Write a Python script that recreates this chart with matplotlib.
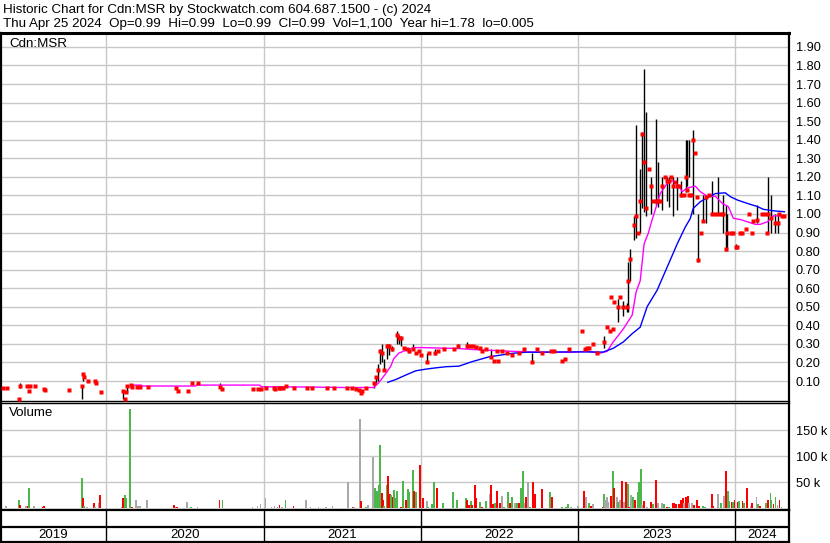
import numpy as np
import matplotlib
matplotlib.use('Agg')
import matplotlib.pyplot as plt

plt.rcParams['font.family'] = ['Liberation Sans', 'DejaVu Sans']

title_line = 'Historic Chart for Cdn:MSR by Stockwatch.com 604.687.1500 - (c) 2024'
quote_line = ('Thu Apr 25 2024  Op=0.99  Hi=0.99  Lo=0.99  Cl=0.99  '
              'Vol=1,100  Year hi=1.78  lo=0.005')
symbol = 'Cdn:MSR'
years = [2019, 2020, 2021, 2022, 2023, 2024]

# trade days: date as decimal year, high, low, close
t = [2019.344, 2019.370, 2019.446, 2019.452, 2019.497, 2019.510, 2019.516, 2019.548,
     2019.605, 2019.611, 2019.764, 2019.847, 2019.853, 2019.860, 2019.885, 2019.930,
     2019.936, 2019.968,
     2020.108, 2020.121, 2020.127, 2020.134, 2020.159, 2020.166, 2020.197, 2020.217,
     2020.268, 2020.446, 2020.459, 2020.522, 2020.548, 2020.586, 2020.726, 2020.739,
     2020.936, 2020.968, 2020.987,
     2021.013, 2021.064, 2021.076, 2021.096, 2021.108, 2021.121, 2021.146, 2021.197,
     2021.274, 2021.306, 2021.401, 2021.446, 2021.529, 2021.561, 2021.586, 2021.605,
     2021.618, 2021.624, 2021.650, 2021.701, 2021.713, 2021.726, 2021.739, 2021.752,
     2021.764, 2021.783, 2021.796, 2021.815, 2021.847, 2021.860, 2021.873, 2021.892,
     2021.911, 2021.924, 2021.949, 2021.968, 2021.987,
     2022.002, 2022.038, 2022.051, 2022.089, 2022.108, 2022.146, 2022.210, 2022.236,
     2022.293, 2022.312, 2022.331, 2022.350, 2022.376, 2022.389, 2022.414, 2022.446,
     2022.465, 2022.484, 2022.490, 2022.516, 2022.548, 2022.580, 2022.624, 2022.656,
     2022.707, 2022.739, 2022.771, 2022.828, 2022.847, 2022.898, 2022.917, 2022.943,
     2023.025, 2023.045, 2023.057, 2023.070, 2023.096, 2023.121, 2023.166, 2023.185,
     2023.204, 2023.210, 2023.223, 2023.229, 2023.255, 2023.268, 2023.287, 2023.312,
     2023.318, 2023.331, 2023.357, 2023.369, 2023.382, 2023.395, 2023.408, 2023.420,
     2023.433, 2023.452, 2023.465, 2023.478, 2023.497, 2023.510, 2023.522, 2023.535,
     2023.554, 2023.567, 2023.580, 2023.592, 2023.605, 2023.618, 2023.631, 2023.643,
     2023.656, 2023.675, 2023.688, 2023.694, 2023.707, 2023.720, 2023.732, 2023.745,
     2023.758, 2023.764, 2023.783, 2023.796, 2023.815, 2023.834, 2023.854, 2023.873,
     2023.892, 2023.911, 2023.924, 2023.943, 2023.949, 2023.975, 2023.987,
     2024.002, 2024.013, 2024.032, 2024.045, 2024.070, 2024.089, 2024.108, 2024.115,
     2024.140, 2024.172, 2024.191, 2024.204, 2024.210, 2024.229, 2024.255, 2024.268,
     2024.280, 2024.299, 2024.312]
hi = [.06, .06, .005, .09, .075, .046, .075, .075,
      .057, .05, .05, .073, .145, .12, .10, .10,
      .09, .04,
      .046, .005, .04, .073, .08, .067, .067, .067,
      .067, .06, .046, .046, .09, .09, .088, .057,
      .057, .057, .057,
      .06, .06, .058, .075, .06, .06, .075, .062,
      .062, .062, .062, .062, .062, .062, .058, .05,
      .035, .045, .065, .09, .12, .19, .27, .30,
      .22, .30, .30, .29, .37, .35, .34, .28,
      .27, .28, .30, .25, .26,
      .24, .25, .25, .27, .26, .27, .27, .30,
      .31, .29, .29, .285, .28, .26, .27, .27,
      .21, .26, .21, .26, .25, .24, .25, .28,
      .25, .27, .25, .26, .26, .21, .22, .27,
      .37, .27, .28, .28, .30, .25, .34, .39,
      .37, .55, .38, .525, .54, .55, .53, .52,
      .74, .81, .99, 1.48, .90, 1.24, 1.44, 1.78,
      1.55, 1.24, 1.20, 1.07, 1.51, 1.28, 1.07, 1.20,
      1.20, 1.20, 1.20, 1.20, 1.20, 1.17, 1.20, 1.15,
      1.18, 1.10, 1.40, 1.40, 1.40, 1.10, 1.45, 1.33,
      1.09, 1.00, .90, 1.10, 1.10, 1.10, 1.18, 1.00,
      1.20, 1.00, 1.10, 1.05, 1.00, .90, .90,
      .84, .82, .90, .90, .92, 1.00, .90, .96,
      1.05, 1.00, 1.00, .90, 1.20, 1.10, 1.00, 1.00,
      1.00, .99, .99]
lo = [.06, .06, .005, .06, .075, .046, .075, .075,
      .057, .05, .05, .005, .10, .12, .10, .10,
      .09, .04,
      .005, .005, .04, .042, .08, .067, .067, .067,
      .067, .06, .046, .046, .09, .09, .067, .057,
      .057, .057, .057,
      .06, .06, .058, .06, .06, .06, .075, .062,
      .062, .062, .062, .062, .062, .062, .058, .05,
      .035, .045, .065, .065, .09, .10, .19, .20,
      .16, .22, .24, .26, .30, .30, .29, .28,
      .27, .25, .27, .25, .26,
      .24, .20, .25, .24, .26, .27, .27, .28,
      .28, .29, .29, .285, .28, .26, .27, .23,
      .21, .26, .21, .26, .25, .24, .25, .26,
      .20, .27, .25, .26, .26, .21, .22, .27,
      .37, .27, .28, .28, .30, .25, .28, .39,
      .37, .55, .38, .525, .42, .55, .45, .47,
      .47, .64, .86, .87, .90, .90, 1.03, 1.01,
      .99, 1.24, 1.00, 1.07, 1.05, 1.04, 1.07, 1.02,
      1.20, 1.07, 1.04, 1.20, .99, 1.17, 1.02, 1.15,
      1.09, 1.10, 1.12, 1.15, 1.20, 1.10, 1.00, 1.33,
      1.09, .74, .90, .96, .95, 1.10, 1.00, 1.00,
      1.00, 1.00, .90, .80, .81, .90, .90,
      .81, .82, .90, .90, .92, 1.00, .90, .96,
      .95, 1.00, 1.00, .90, .90, .90, .90, .90,
      1.00, .99, .99]
cl = [.06, .06, .005, .075, .075, .046, .075, .075,
      .057, .05, .05, .073, .14, .12, .10, .10,
      .09, .04,
      .046, .005, .04, .073, .08, .067, .067, .067,
      .067, .06, .046, .046, .09, .09, .07, .057,
      .057, .057, .057,
      .06, .06, .058, .06, .06, .06, .075, .062,
      .062, .062, .062, .062, .062, .062, .058, .05,
      .035, .045, .065, .09, .12, .16, .26, .25,
      .16, .29, .29, .27, .35, .33, .33, .28,
      .27, .26, .27, .25, .26,
      .24, .20, .25, .25, .26, .27, .27, .29,
      .29, .29, .29, .285, .28, .26, .27, .23,
      .21, .26, .21, .26, .25, .24, .25, .27,
      .20, .27, .25, .26, .26, .21, .22, .27,
      .37, .27, .28, .28, .30, .25, .31, .39,
      .37, .55, .38, .525, .50, .55, .50, .50,
      .64, .76, .94, .99, .90, 1.07, 1.43, 1.28,
      1.03, 1.24, 1.15, 1.07, 1.07, 1.07, 1.07, 1.15,
      1.20, 1.18, 1.18, 1.20, 1.15, 1.17, 1.15, 1.15,
      1.10, 1.10, 1.20, 1.13, 1.10, 1.10, 1.40, 1.33,
      1.09, .75, .90, .96, 1.09, 1.10, 1.00, 1.00,
      1.00, 1.00, 1.00, .81, .90, .90, .90,
      .82, .82, .90, .90, .92, 1.00, .90, .96,
      .97, 1.00, 1.00, .90, 1.00, .98, .95, .95,
      1.00, .99, .99]

# short moving average (magenta)
ma_s_t = [2020.166, 2020.223, 2020.229, 2020.567, 2020.573, 2020.975, 2020.987, 2021.223,
          2021.510, 2021.701, 2021.732, 2021.777, 2021.809, 2021.828, 2021.860, 2021.904,
          2021.955, 2022.006, 2022.242, 2022.325, 2022.580, 2022.752, 2022.968, 2023.057,
          2023.140, 2023.185, 2023.223, 2023.287, 2023.344, 2023.369, 2023.395, 2023.420,
          2023.446, 2023.471, 2023.490, 2023.522, 2023.567, 2023.599, 2023.637, 2023.662,
          2023.694, 2023.745, 2023.777, 2023.822, 2023.873, 2023.917, 2023.955, 2023.987,
          2024.032, 2024.076, 2024.127, 2024.159, 2024.204, 2024.242, 2024.312]
ma_s = [.078, .078, .073, .073, .078, .078, .069, .068,
        .065, .065, .09, .14, .18, .22, .25, .265,
        .28, .28, .275, .27, .26, .255, .255, .26,
        .25, .26, .31, .38, .455, .58, .64, .84,
        .895, .97, 1.02, 1.11, 1.165, 1.18, 1.155, 1.12,
        1.14, 1.15, 1.12, 1.095, 1.095, 1.057, 1.04, .977,
        .97, .958, .944, .944, .958, .99, .99]

# long moving average (blue)
ma_l_t = [2021.790, 2021.841, 2021.904, 2021.968, 2022.032, 2022.096, 2022.159, 2022.242,
          2022.325, 2022.433, 2022.580, 2022.669, 2022.968, 2023.159, 2023.223, 2023.287,
          2023.344, 2023.395, 2023.439, 2023.503, 2023.567, 2023.631, 2023.682, 2023.713,
          2023.732, 2023.777, 2023.822, 2023.873, 2023.936, 2023.968, 2024.013, 2024.076,
          2024.140, 2024.178, 2024.242, 2024.312]
ma_l = [.093, .108, .132, .155, .164, .171, .177, .18,
        .204, .23, .249, .255, .257, .256, .276, .31,
        .355, .39, .50, .59, .715, .84, .93, .975,
        1.03, 1.066, 1.087, 1.11, 1.114, 1.093, 1.075, 1.057,
        1.04, 1.025, 1.017, 1.012]

# daily volume (shares) and direction: u = up, d = down, n = unchanged
vol_t = [2019.331, 2019.363, 2019.446, 2019.452, 2019.490, 2019.503, 2019.510, 2019.541,
         2019.599, 2019.605, 2019.752, 2019.847, 2019.853, 2019.860, 2019.879, 2019.923,
         2019.930, 2019.955, 2019.962,
         2020.102, 2020.108, 2020.121, 2020.127, 2020.153, 2020.166, 2020.191, 2020.204,
         2020.217, 2020.261, 2020.433, 2020.446, 2020.452, 2020.516, 2020.541, 2020.580,
         2020.720, 2020.739, 2020.930, 2020.962, 2020.981,
         2021.013, 2021.051, 2021.070, 2021.089, 2021.102, 2021.115, 2021.140, 2021.191,
         2021.268, 2021.299, 2021.350, 2021.395, 2021.439, 2021.535, 2021.567, 2021.573,
         2021.611, 2021.618, 2021.650, 2021.662, 2021.694, 2021.707, 2021.720, 2021.732,
         2021.739, 2021.752, 2021.758, 2021.764, 2021.783, 2021.790, 2021.803, 2021.809,
         2021.822, 2021.828, 2021.834, 2021.847, 2021.873, 2021.885, 2021.904, 2021.917,
         2021.924, 2021.949, 2021.955, 2021.968, 2021.994,
         2022.013, 2022.038, 2022.045, 2022.070, 2022.083, 2022.102, 2022.140, 2022.204,
         2022.229, 2022.287, 2022.293, 2022.306, 2022.318, 2022.325, 2022.344, 2022.350,
         2022.376, 2022.389, 2022.414, 2022.439, 2022.446, 2022.459, 2022.471, 2022.484,
         2022.503, 2022.516, 2022.529, 2022.554, 2022.567, 2022.580, 2022.599, 2022.611,
         2022.624, 2022.637, 2022.650, 2022.662, 2022.669, 2022.682, 2022.694, 2022.713,
         2022.726, 2022.771, 2022.822, 2022.834, 2022.892, 2022.898, 2022.924, 2022.936,
         2022.955,
         2023.000, 2023.038, 2023.051, 2023.070, 2023.083, 2023.096, 2023.159, 2023.166,
         2023.172, 2023.185, 2023.191, 2023.210, 2023.223, 2023.229, 2023.248, 2023.255,
         2023.268, 2023.280, 2023.293, 2023.306, 2023.318, 2023.325, 2023.338, 2023.350,
         2023.363, 2023.382, 2023.389, 2023.401, 2023.408, 2023.420, 2023.439, 2023.465,
         2023.478, 2023.497, 2023.510, 2023.535, 2023.548, 2023.567, 2023.580, 2023.605,
         2023.611, 2023.624, 2023.643, 2023.656, 2023.669, 2023.675, 2023.688, 2023.701,
         2023.707, 2023.726, 2023.739, 2023.758, 2023.771, 2023.796, 2023.809, 2023.854,
         2023.860, 2023.892, 2023.911, 2023.930, 2023.943, 2023.955, 2023.962, 2023.975,
         2023.987, 2023.994,
         2024.019, 2024.025, 2024.045, 2024.057, 2024.076, 2024.096, 2024.108, 2024.134,
         2024.146, 2024.159, 2024.197, 2024.210, 2024.223, 2024.229, 2024.242, 2024.255,
         2024.268, 2024.280, 2024.293, 2024.318]
vol = [1000, 4500, 16000, 6000, 4000, 4000, 40000, 4000,
       2000, 4000, 1000, 58000, 20000, 4000, 2000, 11000,
       2000, 10000, 26000,
       2000, 19000, 26000, 19000, 191000, 3000, 16000, 4000,
       4000, 16000, 6000, 3000, 2000, 13000, 2000, 2000,
       16000, 16000, 2000, 4000, 8000,
       20000, 3000, 4000, 2000, 6000, 3000, 16000, 4000,
       16000, 2000, 2000, 3000, 4000, 51000, 2000, 3000,
       172000, 14000, 3000, 6000, 99000, 40000, 34000, 45000,
       122000, 29000, 16000, 4000, 45000, 62000, 28000, 26000,
       21000, 35000, 19000, 33000, 3000, 53000, 16000, 37000,
       31000, 74000, 33000, 31000, 83000,
       19000, 14000, 2000, 8000, 51000, 40000, 10000, 31000,
       16000, 19000, 16000, 6000, 14000, 6000, 45000, 19000,
       12000, 2000, 14000, 28000, 45000, 8000, 11000, 33000,
       11000, 24000, 3000, 31000, 11000, 21000, 10000, 11000,
       11000, 40000, 72000, 10000, 21000, 51000, 2000, 51000,
       28000, 37000, 31000, 21000, 1000, 2000, 2000, 8000,
       2000,
       4000, 33000, 21000, 11000, 4000, 8000, 2000, 28000,
       16000, 22000, 13000, 24000, 72000, 40000, 21000, 12000,
       16000, 53000, 13000, 51000, 47000, 3000, 26000, 22000,
       16000, 31000, 51000, 75000, 6000, 14000, 2000, 12000,
       8000, 54000, 10000, 10000, 8000, 3000, 2000, 11000,
       11000, 8000, 8000, 16000, 19000, 10000, 21000, 24000,
       10000, 10000, 6000, 16000, 4000, 4000, 3000, 28000,
       4000, 28000, 10000, 24000, 71000, 33000, 15000, 13000,
       13000, 16000,
       13000, 14000, 14000, 10000, 40000, 4000, 10000, 21000,
       8000, 4000, 10000, 16000, 29000, 17000, 8000, 22000,
       6000, 17000, 3000, 1000]
vol_dir = list('nnudndunddnudundnnd'
               + 'uduuudnnnndndnundunnn'
               + 'nnnudnudnnnnnndnndunnuuuudduudduduuududuuudud'
               + 'dnuuuduuuudduddduduntdud'.replace('t', 'd')
               + 'dnuudunuduundnudddudduuun'
               + 'ndnudndunnndudnundndudnuduuundndudnnudud'
               + 'dddddnddnnddduuddnunduududd'
               + 'ududndnududuudundund')

# --- layout in pixels of the 830 x 543 picture ---
W, H = 830, 543
X_LO, X_HI = 2019.331, 2024.341


def box(left, top, right, bottom):
    return [left / W, 1 - bottom / H, (right - left) / W, (bottom - top) / H]


grid_c = '#c8c8c8'
up_c, down_c, flat_c = '#4cb84c', '#ff0000', '#a8a8a8'
bounds = years[1:]

fig = plt.figure(figsize=(W / 100, H / 100), dpi=100)
fig.text(3 / W, 1 - 9.8 / H, title_line, fontsize=9.6, va='center', ha='left')
fig.text(3 / W, 1 - 23.5 / H, quote_line, fontsize=9.6, va='center', ha='left')

# price panel
ax = fig.add_axes(box(1, 32.8, 789, 400.5))
ax.set_xlim(X_LO, X_HI)
ax.set_ylim(-0.005, 1.976)
ax.set_xticks(bounds)
ax.set_yticks(np.arange(0.1, 1.95, 0.1))
ax.set_yticklabels([f'{v:.2f}' for v in np.arange(0.1, 1.95, 0.1)])
ax.grid(True, color=grid_c, lw=1)
ax.set_axisbelow(True)
ax.yaxis.tick_right()
ax.tick_params(axis='y', length=0, pad=5, labelsize=9.2)
ax.tick_params(axis='x', length=0, labelbottom=False)
ax.vlines(t, lo, hi, color='black', lw=1.0, zorder=3)
ax.plot(ma_s_t, ma_s, color='#ff00ff', lw=1.0, zorder=4)
ax.plot(ma_l_t, ma_l, color='#0000ff', lw=1.0, zorder=4)
ax.plot(t, cl, ls='none', marker='s', ms=2.3, mfc='#ff0000', mec='none', zorder=5)
ax.text(8 / 788, 0.969, symbol, transform=ax.transAxes, fontsize=9.6, va='center')
for s in ax.spines.values():
    s.set_color('black')
ax.spines['top'].set_linewidth(2.2)
ax.spines['left'].set_linewidth(1.6)
ax.spines['right'].set_linewidth(1.6)
ax.spines['bottom'].set_linewidth(1.0)

# volume panel
axv = fig.add_axes(box(1, 402.5, 789, 509.5))
axv.set_xlim(X_LO, X_HI)
axv.set_ylim(-2200, 203500)
axv.set_xticks(bounds)
axv.set_yticks([50000, 100000, 150000])
axv.set_yticklabels(['50 k', '100 k', '150 k'])
axv.grid(True, color=grid_c, lw=1)
axv.set_axisbelow(True)
axv.yaxis.tick_right()
axv.tick_params(axis='y', length=0, pad=5, labelsize=9.2)
axv.tick_params(axis='x', length=0, labelbottom=False)
colors = [{'u': up_c, 'd': down_c, 'n': flat_c}[c] for c in vol_dir]
axv.bar(vol_t, vol, width=0.0115, color=colors, linewidth=0, zorder=3)
axv.text(8 / 788, 0.9, 'Volume', transform=axv.transAxes, fontsize=9.6, va='center')
for s in axv.spines.values():
    s.set_color('black')
axv.spines['top'].set_linewidth(1.0)
axv.spines['left'].set_linewidth(1.6)
axv.spines['right'].set_linewidth(1.6)
axv.spines['bottom'].set_linewidth(1.6)

# year strip
axy = fig.add_axes(box(1, 509.5, 789, 541.5))
axy.set_xlim(X_LO, X_HI)
axy.set_ylim(0, 1)
axy.set_xticks([])
axy.set_yticks([])
axy.axhline(0.45, color='black', lw=1.6)
for b in bounds:
    axy.axvline(b, color='black', lw=1.0)
for y in years:
    a, z = max(y, X_LO), min(y + 1, X_HI)
    axy.text((a + z) / 2, 0.21, str(y), ha='center', va='center', fontsize=9.5)
for s in axy.spines.values():
    s.set_color('black')
    s.set_linewidth(1.6)

fig.savefig('out.png', dpi=100)
